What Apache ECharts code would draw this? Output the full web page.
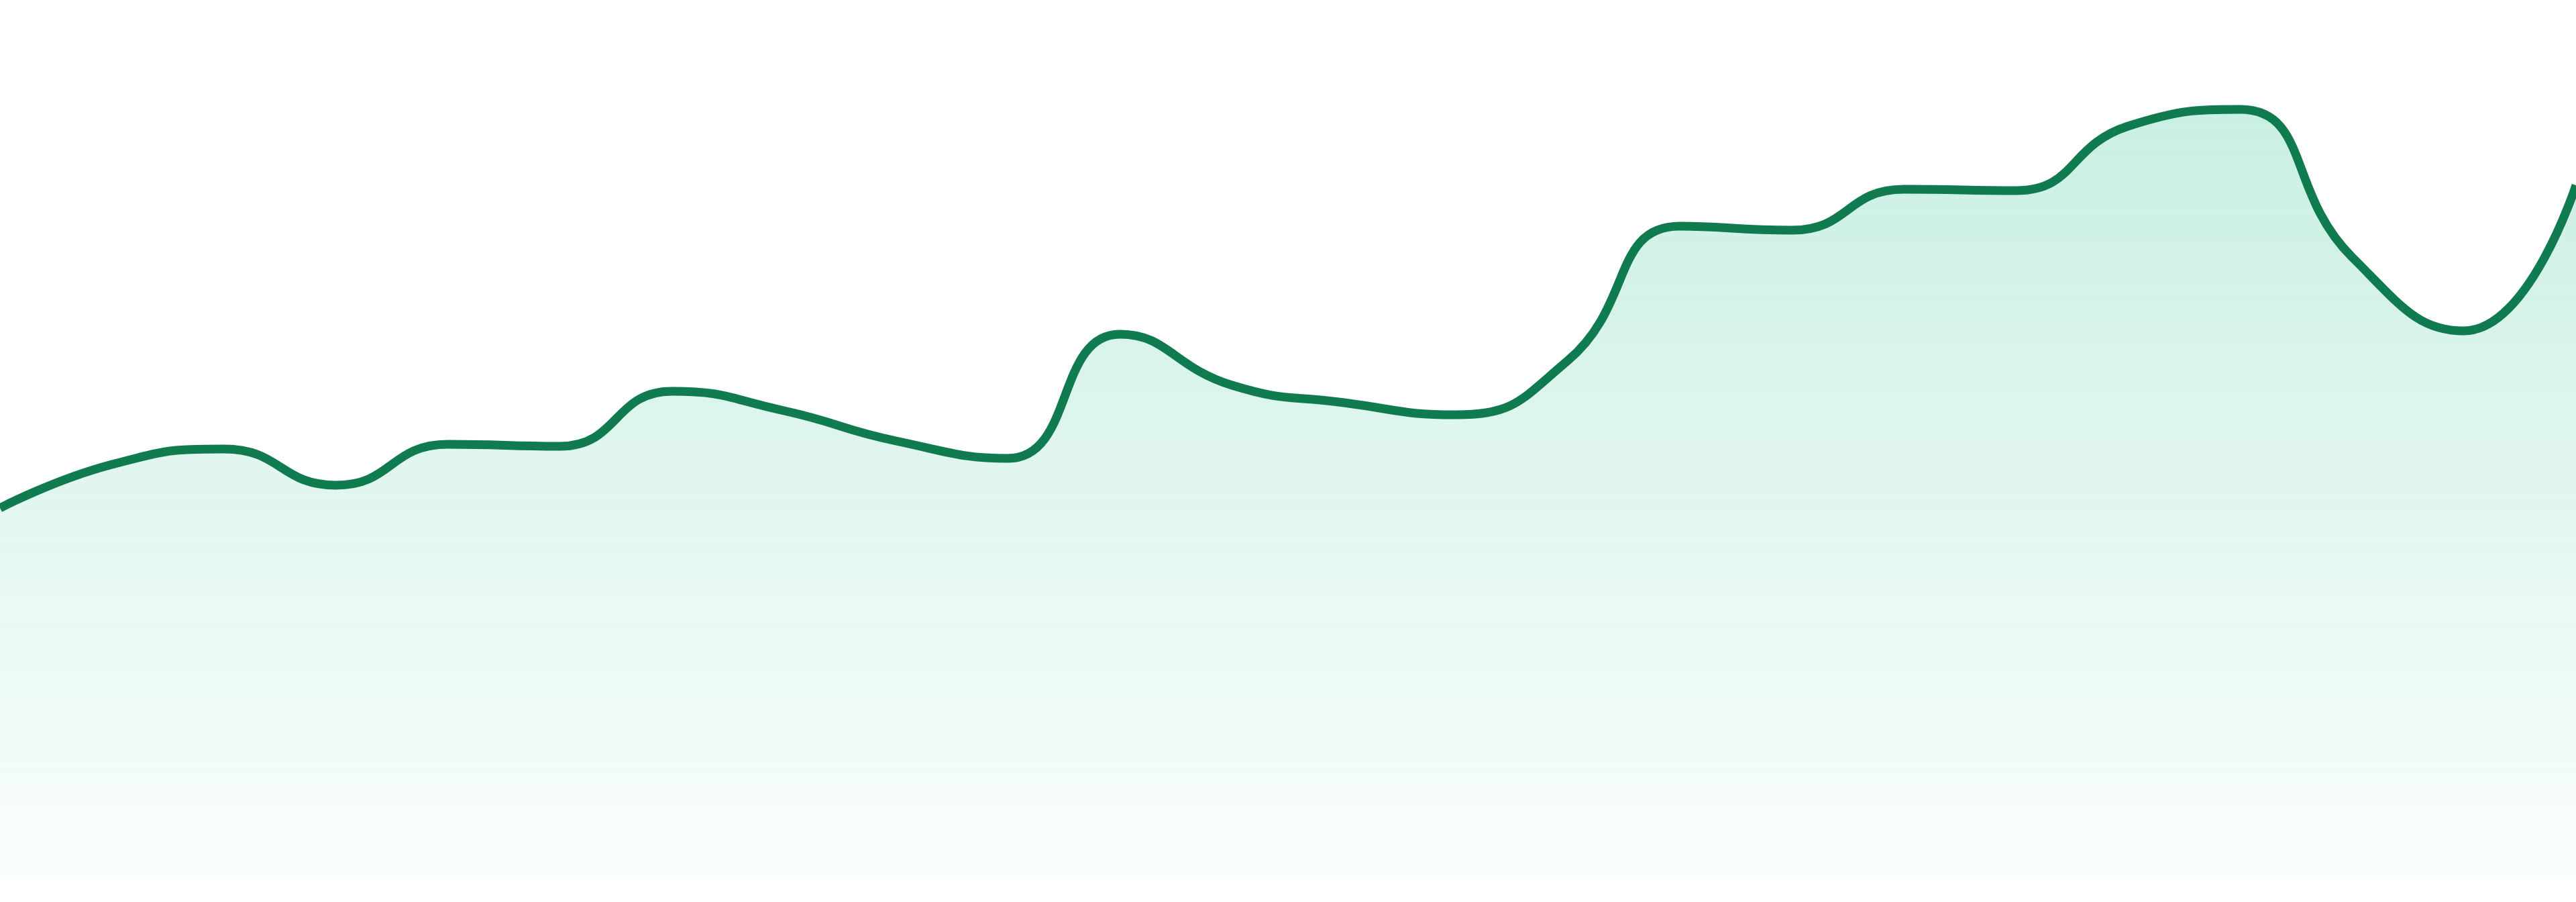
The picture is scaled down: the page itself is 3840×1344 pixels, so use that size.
<!DOCTYPE html>
<html>
<head>
<meta charset="utf-8">
<title>Trend</title>
<script src="https://cdn.jsdelivr.net/npm/echarts@6/dist/echarts.min.js"></script>
<style>
    html, body { margin: 0; padding: 0; background: #fff; }
    #chart { width: 3840px; height: 1344px; }
</style>
</head>
<body>
<div id="chart"></div>
<script>
// one point per period, 24 periods
const periods = [
    'P1', 'P2', 'P3', 'P4', 'P5', 'P6', 'P7', 'P8', 'P9', 'P10', 'P11', 'P12',
    'P13', 'P14', 'P15', 'P16', 'P17', 'P18', 'P19', 'P20', 'P21', 'P22', 'P23', 'P24'
];
const values = [
    54.9, 61.4, 63.7, 58.3, 64.4, 64.1, 72.3, 69.4, 64.9, 62.3, 80.8, 73.2,
    70.6, 68.8, 76.9, 96.9, 96.3, 102.4, 102.2, 111.8, 114.3, 92.3, 81.3, 103.0
];
const yMin = 0;
const yMax = 130;

const myChart = echarts.init(document.getElementById('chart'));

const option = {
    animation: false,
    grid: {
        left: 0,
        right: 0,
        top: 6,
        bottom: 38
    },
    xAxis: {
        type: 'category',
        data: periods,
        boundaryGap: false,
        show: false
    },
    yAxis: {
        type: 'value',
        min: yMin,
        max: yMax,
        show: false
    },
    series: [{
        type: 'line',
        data: values,
        smooth: true,
        symbol: 'none',
        lineStyle: {
            color: '#117b50',
            width: 13
        },
        areaStyle: {
            color: new echarts.graphic.LinearGradient(0, 0, 0, 1, [
                { offset: 0, color: 'rgba(16,185,129,0.32)' },
                { offset: 1, color: 'rgba(16,185,129,0.03)' }
            ])
        }
    }]
};

myChart.setOption(option);
</script>
</body>
</html>
